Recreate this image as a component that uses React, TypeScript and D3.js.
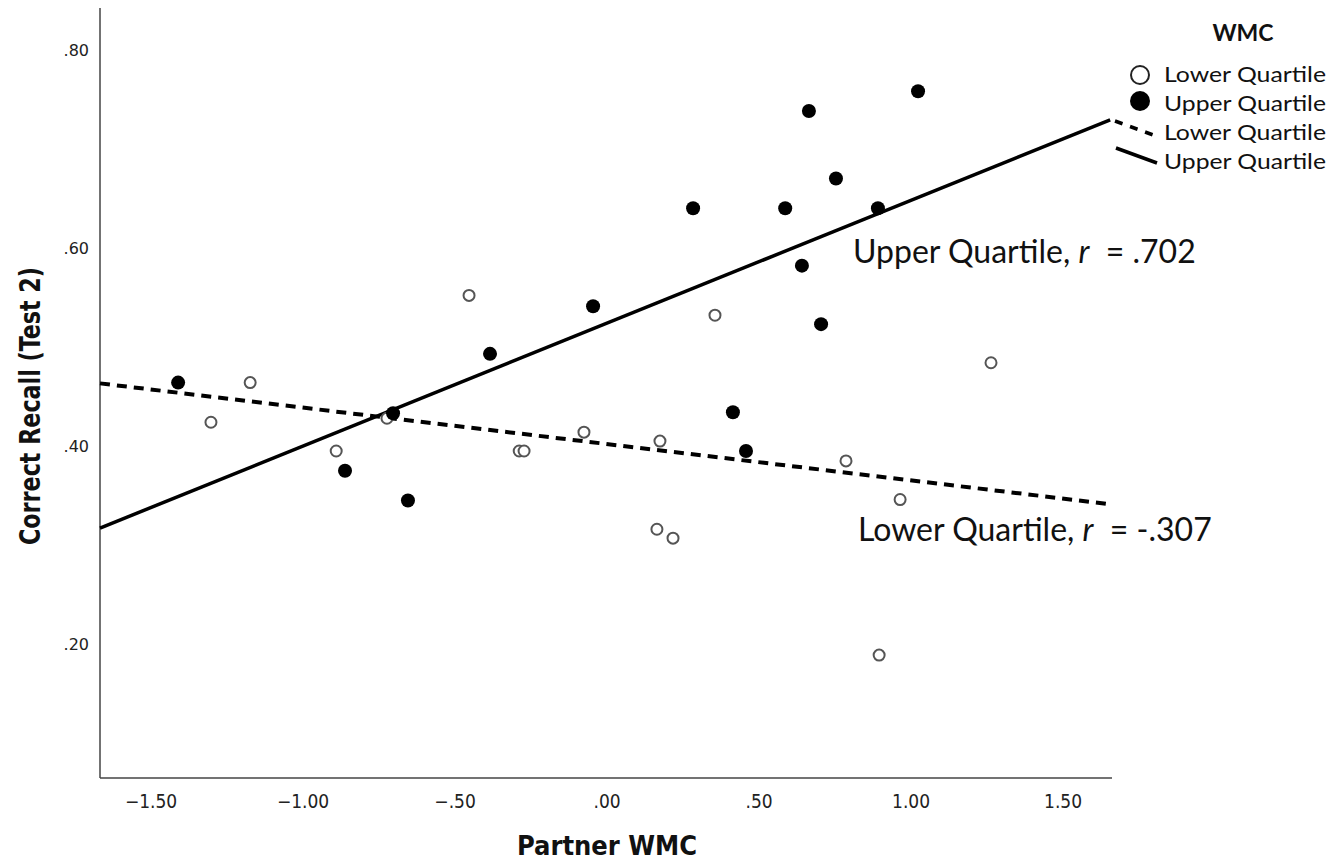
import React from "react";
import * as d3 from "d3";

// ---- data ----
const upperX = [-1.411, -0.704, -0.862, -0.655, -0.385, -0.046, 0.283, 0.586, 0.753, 0.664, 1.023, 0.891, 0.641, 0.704, 0.414, 0.457];
const upperY = [0.464, 0.433, 0.375, 0.345, 0.493, 0.541, 0.640, 0.640, 0.670, 0.738, 0.758, 0.640, 0.582, 0.523, 0.434, 0.395];

const lowerX = [-1.174, -1.303, -0.891, -0.454, -0.724, -0.289, -0.273, -0.076, 0.174, 0.164, 0.217, 0.355, 0.786, 0.964, 0.895, 1.263];
const lowerY = [0.464, 0.424, 0.395, 0.552, 0.428, 0.395, 0.395, 0.414, 0.405, 0.316, 0.307, 0.532, 0.385, 0.346, 0.189, 0.484];

// fitted lines (intercept, slope)
const upperFit = [0.524, 0.124];
const lowerFit = [0.402, -0.0367];

const xTicks = [-1.5, -1.0, -0.5, 0.0, 0.5, 1.0, 1.5];
const yTicks = [0.2, 0.4, 0.6, 0.8];
const xDomain = [-1.668, 1.661];
const yDomain = [0.065, 0.842];

const legendLabels = ["Lower Quartile", "Upper Quartile", "Lower Quartile", "Upper Quartile"];

const fmt = (v: number) => {
  const s = Math.abs(v).toFixed(2);
  const t = s.startsWith("0") ? s.slice(1) : s;
  return v < 0 ? "\u2212" + t : t;
};

export default function App() {
  const W = 1340, H = 863;
  const x = d3.scaleLinear().domain(xDomain).range([100, 1112]);
  const y = d3.scaleLinear().domain(yDomain).range([778, 8]);

  const line = d3.line<number>().x((d) => x(d[0])).y((d) => y(d[1]));
  const fitPts = (f: number[], x1: number) =>
    [xDomain[0], x1].map((v) => [v, f[0] + f[1] * v]);

  const upper = upperX.map((v, i) => [v, upperY[i]]);
  const lower = lowerX.map((v, i) => [v, lowerY[i]]);

  const tickFont = "'Liberation Sans Narrow', 'DejaVu Sans Condensed', 'Liberation Sans', sans-serif";
  const calibri = "Lato, 'Open Sans', sans-serif";

  return (
    <svg width={W} height={H} style={{ position: "absolute", left: 0, top: 0, background: "#fff" }}>
      {/* axes */}
      <line x1={100} y1={8} x2={100} y2={778} stroke="#444" strokeWidth={1.5} />
      <line x1={100} y1={778} x2={1112} y2={778} stroke="#444" strokeWidth={1.5} />

      {xTicks.map((t) => (
        <text key={"x" + t} x={x(t)} y={808} textAnchor="middle" fontFamily={tickFont} fontSize={19} fill="#222">
          {fmt(t)}
        </text>
      ))}
      {yTicks.map((t) => (
        <text key={"y" + t} x={89} y={y(t) + 6} textAnchor="end" fontFamily="'DejaVu Sans', sans-serif" fontSize={16} fill="#222">
          {fmt(t)}
        </text>
      ))}

      <text x={607} y={855} textAnchor="middle" fontFamily={tickFont} fontWeight="bold" fontSize={26} fill="#111" textLength={180} lengthAdjust="spacingAndGlyphs">
        Partner WMC
      </text>
      <text transform="translate(40,406) rotate(-90)" textAnchor="middle" fontFamily={tickFont} fontWeight="bold" fontSize={28} fill="#111" textLength={278} lengthAdjust="spacingAndGlyphs">
        Correct Recall (Test 2)
      </text>

      {/* fit lines */}
      <path d={line(fitPts(lowerFit, xDomain[1]) as any) || ""} fill="none" stroke="#000" strokeWidth={4} strokeDasharray="10 7" />
      <path d={line(fitPts(upperFit, 1.655) as any) || ""} fill="none" stroke="#000" strokeWidth={3.5} />

      {/* points */}
      {lower.map((d, i) => (
        <circle key={"l" + i} cx={x(d[0])} cy={y(d[1])} r={5.5} fill="#fff" stroke="#555" strokeWidth={2} />
      ))}
      {upper.map((d, i) => (
        <circle key={"u" + i} cx={x(d[0])} cy={y(d[1])} r={7} fill="#000" />
      ))}

      {/* annotations */}
      <text x={853} y={263} fontFamily={calibri} fontSize={32} fill="#111" style={{ whiteSpace: "pre" }}>
        {"Upper Quartile, "}<tspan fontStyle="italic">r</tspan>{"  = .702"}
      </text>
      <text x={858} y={541} fontFamily={calibri} fontSize={32} fill="#111" style={{ whiteSpace: "pre" }}>
        {"Lower Quartile, "}<tspan fontStyle="italic">r</tspan>{"  = -.307"}
      </text>

      {/* legend */}
      <text x={1243} y={41} textAnchor="middle" fontFamily={calibri} fontWeight="bold" fontSize={23} fill="#111">
        WMC
      </text>
      <circle cx={1140} cy={75} r={9} fill="#fff" stroke="#222" strokeWidth={2} />
      <circle cx={1140} cy={101} r={10} fill="#000" />
      <line x1={1115} y1={121} x2={1156} y2={136} stroke="#000" strokeWidth={3.5} strokeDasharray="8 8" />
      <line x1={1116} y1={148} x2={1157} y2={163} stroke="#000" strokeWidth={3.5} />
      {legendLabels.map((l, i) => (
        <text key={"lg" + i} x={1164} y={82 + i * 29} fontFamily={calibri} fontSize={22} fill="#111" textLength={162} lengthAdjust="spacingAndGlyphs">
          {l}
        </text>
      ))}
    </svg>
  );
}
